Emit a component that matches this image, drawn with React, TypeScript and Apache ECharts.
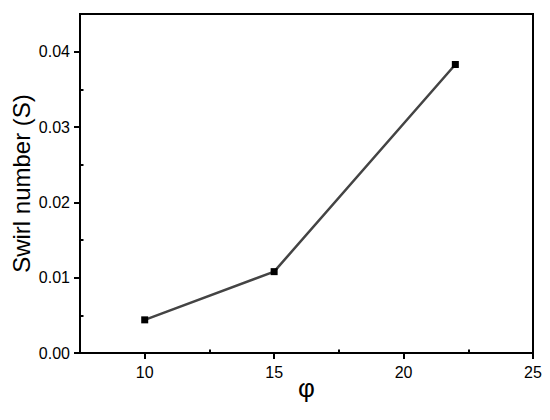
import React, { useEffect, useRef } from "react";
import * as echarts from "echarts";

const phi = [10, 15, 22];
const swirl = [0.0044, 0.0108, 0.0383];
const xMajor = [10, 15, 20, 25];
const xMinor = [7.5, 12.5, 17.5, 22.5];
const yMajor = [0, 0.01, 0.02, 0.03, 0.04];
const yMinor = [0.005, 0.015, 0.025, 0.035, 0.045];

export default function App() {
  const ref = useRef<HTMLDivElement>(null);
  useEffect(() => {
    if (!ref.current) return;
    const chart = echarts.init(ref.current, null, { renderer: "svg" });
    const font = "'Liberation Sans', Arial, sans-serif";
    chart.setOption({
      animation: false,
      backgroundColor: "#fff",
      grid: {
        left: 80,
        right: 17,
        top: 14,
        bottom: 67,
        show: true,
        borderColor: "#000",
        borderWidth: 2,
        containLabel: false,
        outerBoundsMode: "none",
      },
      xAxis: [
        {
          type: "value",
          min: 7.5,
          max: 25,
          name: "φ",
          nameLocation: "middle",
          nameGap: 22,
          nameMoveOverlap: false,
          nameTextStyle: { fontSize: 26, color: "#000", fontFamily: font },
          axisLine: { show: true, onZero: false, lineStyle: { color: "#000", width: 2 } },
          axisTick: { show: true, inside: false, length: 6, customValues: xMajor, lineStyle: { color: "#000", width: 2 } },
          axisLabel: { customValues: xMajor, fontSize: 16, color: "#000", fontFamily: font, margin: 11 },
          splitLine: { show: false },
        },
        {
          type: "value",
          min: 7.5,
          max: 25,
          position: "bottom",
          offset: 0,
          axisLine: { show: false, onZero: false },
          axisTick: { show: true, inside: true, length: 3.5, customValues: xMinor, lineStyle: { color: "#000", width: 2 } },
          axisLabel: { show: false },
          splitLine: { show: false },
        },
      ],
      yAxis: [
        {
          type: "value",
          min: 0,
          max: 0.045,
          name: "Swirl number (S)",
          nameLocation: "middle",
          nameGap: 47,
          nameMoveOverlap: false,
          nameTextStyle: { fontSize: 24, color: "#000", fontFamily: font },
          axisLine: { show: true, onZero: false, lineStyle: { color: "#000", width: 2 } },
          axisTick: { show: true, inside: false, length: 6, customValues: yMajor, lineStyle: { color: "#000", width: 2 } },
          axisLabel: {
            customValues: yMajor,
            fontSize: 16,
            color: "#000",
            fontFamily: font,
            margin: 10,
            formatter: (v: number) => v.toFixed(2),
          },
          splitLine: { show: false },
        },
        {
          type: "value",
          min: 0,
          max: 0.045,
          position: "left",
          offset: 0,
          axisLine: { show: false, onZero: false },
          axisTick: { show: true, inside: true, length: 3.5, customValues: yMinor, lineStyle: { color: "#000", width: 2 } },
          axisLabel: { show: false },
          splitLine: { show: false },
        },
      ],
      series: [
        {
          type: "line",
          data: phi.map((x, i) => [x, swirl[i]]),
          symbol: "rect",
          symbolSize: 7,
          itemStyle: { color: "#000" },
          lineStyle: { color: "#444", width: 2.5 },
        },
      ],
    });
    return () => chart.dispose();
  }, []);
  return <div ref={ref} style={{ width: 550, height: 420, marginLeft: -8, marginTop: -8 }} />;
}
